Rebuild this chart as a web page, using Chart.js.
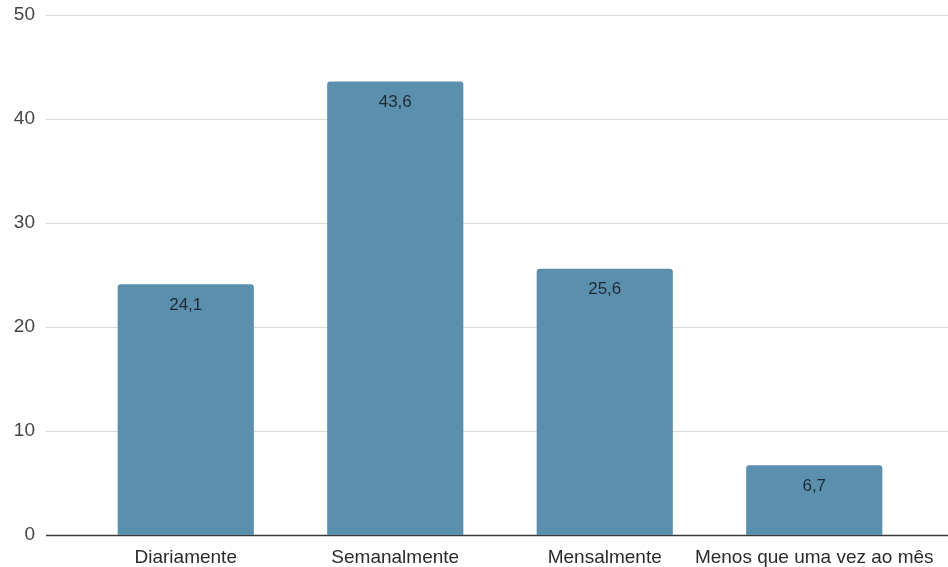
<!DOCTYPE html>
<html>
<head>
<meta charset="utf-8">
<script src="https://cdn.jsdelivr.net/npm/chart.js@4"></script>
<style>
  html, body { margin: 0; padding: 0; background: #fff; }
  #wrap { width: 948px; height: 567px; }
</style>
</head>
<body>
<div id="wrap"><canvas id="c" width="948" height="567"></canvas></div>
<script>
// Frequência de resposta (%)
const categories = ['Diariamente', 'Semanalmente', 'Mensalmente', 'Menos que uma vez ao mês'];
const values = [24.1, 43.6, 25.6, 6.7];
const yTicks = [0, 10, 20, 30, 40, 50];

const BAR_COLOR = '#5a8fae';
const GRID_LEFT = 46;

// Horizontal gridlines spanning past the plot area, and a darker zero line
const gridPlugin = {
  id: 'wideGrid',
  beforeDatasetsDraw(chart) {
    const { ctx, scales: { y } } = chart;
    const right = chart.width;
    ctx.save();
    yTicks.forEach(v => {
      const py = Math.round(y.getPixelForValue(v)) + 0.5;
      ctx.beginPath();
      ctx.moveTo(GRID_LEFT, py);
      ctx.lineTo(right, py);
      if (v === 0) {
        ctx.strokeStyle = '#3a3a3a';
        ctx.lineWidth = 1.5;
      } else {
        ctx.strokeStyle = '#d9d9d9';
        ctx.lineWidth = 1;
      }
      ctx.stroke();
    });
    ctx.restore();
  }
};

// Value labels inside the top of each bar
const valueLabels = {
  id: 'valueLabels',
  afterDatasetsDraw(chart) {
    const { ctx } = chart;
    const meta = chart.getDatasetMeta(0);
    ctx.save();
    ctx.font = '17px "Liberation Sans", Arial, sans-serif';
    ctx.fillStyle = '#1f2a33';
    ctx.textAlign = 'center';
    ctx.textBaseline = 'middle';
    meta.data.forEach((bar, i) => {
      const txt = values[i].toFixed(1).replace('.', ',');
      ctx.fillText(txt, bar.x, bar.y + 21);
    });
    ctx.restore();
  }
};

new Chart(document.getElementById('c'), {
  type: 'bar',
  data: {
    labels: categories,
    datasets: [{
      data: values,
      backgroundColor: BAR_COLOR,
      borderRadius: 3,
      barPercentage: 0.65,
      categoryPercentage: 1.0
    }]
  },
  options: {
    responsive: false,
    animation: false,
    events: [],
    layout: { padding: { top: 15, right: 29, bottom: 0, left: 0 } },
    plugins: { legend: { display: false }, tooltip: { enabled: false }, title: { display: false } },
    scales: {
      x: {
        grid: { display: false, drawTicks: false },
        border: { display: false },
        ticks: {
          autoSkip: false,
          maxRotation: 0,
          minRotation: 0,
          padding: 11,
          color: '#2b2b2b',
          font: { family: '"Liberation Sans", Arial, sans-serif', size: 19 }
        },
        afterFit(scale) {
          scale.height = 32;
          scale.paddingLeft = 0;
          scale.paddingRight = 0;
        }
      },
      y: {
        min: 0,
        max: 50,
        afterBuildTicks(scale) {
          scale.ticks = yTicks.map(v => ({ value: v }));
        },
        grid: { display: false, drawTicks: false },
        border: { display: false },
        ticks: {
          padding: 46,
          color: '#444',
          font: { family: '"Liberation Sans", Arial, sans-serif', size: 19 }
        },
        afterFit(scale) {
          scale.width = 81;
          scale.paddingTop = 0;
          scale.paddingBottom = 0;
        }
      }
    }
  },
  plugins: [gridPlugin, valueLabels]
});
</script>
</body>
</html>
